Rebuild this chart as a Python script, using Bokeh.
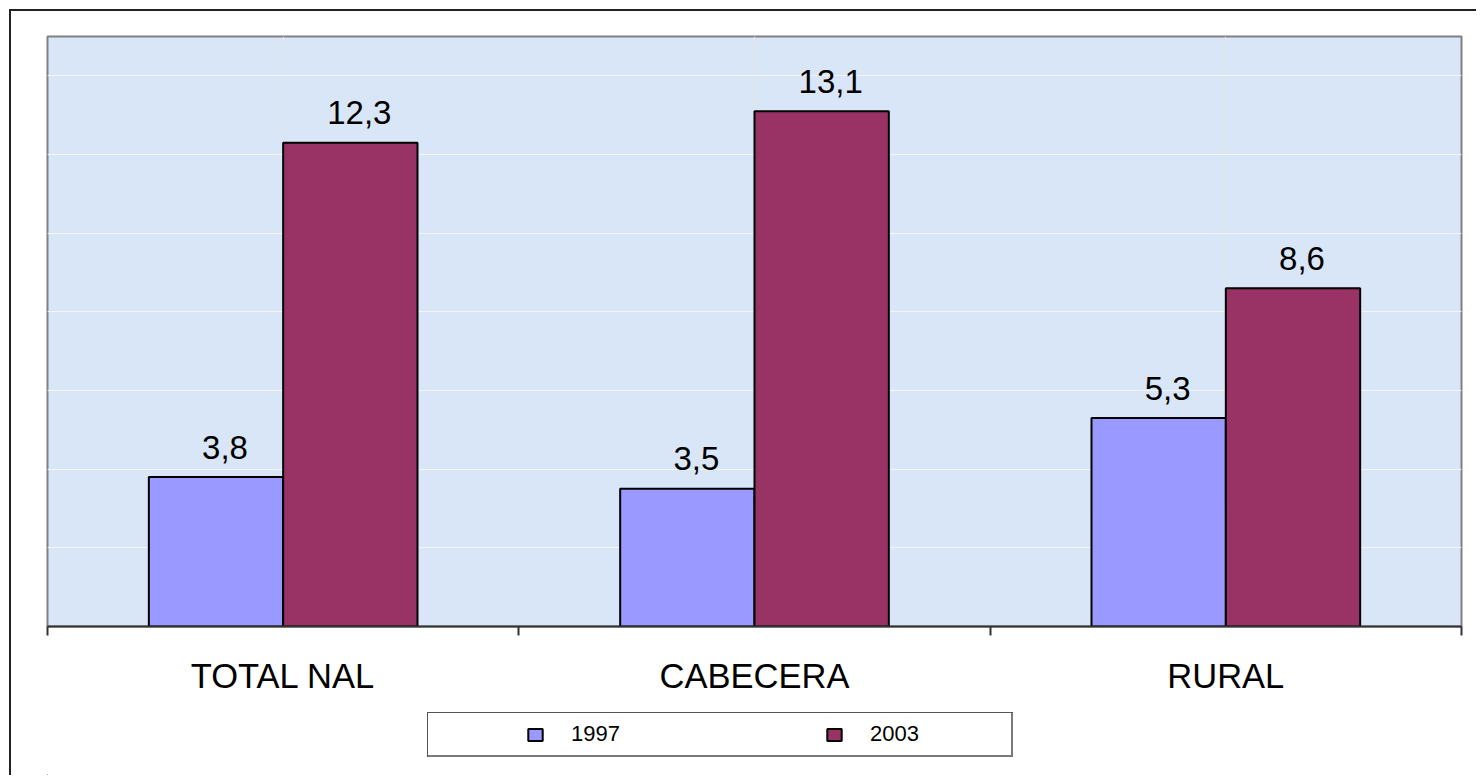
from bokeh.plotting import figure
from bokeh.layouts import column
from bokeh.models import (FactorRange, Range1d, ColumnDataSource, LinearAxis, CategoricalAxis,
                          FixedTicker, Legend, LegendItem, Grid)
from bokeh.transform import dodge
from bokeh.embed import file_html
from bokeh.resources import INLINE
from bokeh.core.properties import value

categories = ["TOTAL NAL", "CABECERA", "RURAL"]
series_names = ["1997", "2003"]
values_1997 = [3.8, 3.5, 5.3]
values_2003 = [12.3, 13.1, 8.6]
colors = ["#9999ff", "#993366"]


def fmt(v):
    return f"{v:.1f}".replace(".", ",")


src = ColumnDataSource(dict(
    cat=categories,
    v1997=values_1997,
    v2003=values_2003,
    l1997=[fmt(v) for v in values_1997],
    l2003=[fmt(v) for v in values_2003],
))

FONT = "Liberation Sans"

# ---------------- main chart ----------------
p = figure(width=1476, height=700,
           x_range=FactorRange(factors=categories, range_padding=0),
           y_range=Range1d(0, 15),
           output_backend="svg", toolbar_location=None,
           x_axis_location=None, y_axis_location=None,
           min_border_left=47, min_border_right=15, min_border_top=36, min_border_bottom=74)
p.background_fill_color = "#d8e6f8"
p.border_fill_color = None
p.outline_line_color = "#808080"
p.outline_line_width = 2

grid = Grid(dimension=1, ticker=FixedTicker(ticks=[2, 4, 6, 8, 10, 12, 14]),
            grid_line_color="white", grid_line_alpha=0.6, grid_line_width=1)
p.add_layout(grid)

bw = 0.285
off = 0.1425
r1 = p.vbar(x=dodge("cat", -off, range=p.x_range), top="v1997", width=bw, source=src,
            fill_color=colors[0], line_color="black", line_width=2)
r2 = p.vbar(x=dodge("cat", off, range=p.x_range), top="v2003", width=bw, source=src,
            fill_color=colors[1], line_color="black", line_width=2)

for col, o in (("1997", -off), ("2003", off)):
    p.text(x=dodge("cat", o, range=p.x_range), y="v" + col, text="l" + col, source=src,
           text_align="center", text_baseline="alphabetic", x_offset=9, y_offset=-30,
           text_font=value(FONT), text_font_size="33px", text_color="black")

# tick axis at category boundaries (synthetic coordinates of the factor range)
tick_axis = LinearAxis(ticker=FixedTicker(ticks=list(range(len(categories) + 1))),
                       major_tick_out=9, major_tick_in=0, minor_tick_line_color=None,
                       major_label_text_font_size="1px", major_label_text_alpha=0,
                       major_label_standoff=0,
                       axis_line_color="#333333", axis_line_width=2,
                       major_tick_line_color="#333333", major_tick_line_width=2)
p.add_layout(tick_axis, "below")

cat_axis = CategoricalAxis(major_tick_line_color=None, major_tick_out=0, major_tick_in=0,
                           axis_line_color=None,
                           major_label_text_font=FONT, major_label_text_font_size="34.5px",
                           major_label_text_color="black", major_label_standoff=21)
p.add_layout(cat_axis, "below")

# ---------------- legend strip ----------------
lg = figure(width=1476, height=75, x_range=Range1d(0, 1), y_range=Range1d(0, 1),
            output_backend="svg", toolbar_location=None,
            x_axis_location=None, y_axis_location=None,
            min_border=0, min_border_left=0, min_border_right=0,
            min_border_top=0, min_border_bottom=0)
lg.background_fill_color = None
lg.border_fill_color = None
lg.outline_line_color = None
lg.xgrid.visible = False
lg.ygrid.visible = False

# legend key proxies (kept outside the visible range of the strip)
proxy_src = ColumnDataSource(dict(x=[-5], top=[-5]))
k1 = lg.vbar(x="x", top="top", bottom=-6, width=0.1, source=proxy_src,
             fill_color=colors[0], line_color="black", line_width=2)
k2 = lg.vbar(x="x", top="top", bottom=-6, width=0.1, source=proxy_src,
             fill_color=colors[1], line_color="black", line_width=2)

legend = Legend(items=[LegendItem(label=series_names[0], renderers=[k1]),
                       LegendItem(label=series_names[1], renderers=[k2])],
                orientation="horizontal", location=(479, 28), padding=0, margin=0,
                spacing=142, label_width=112, label_standoff=27, glyph_width=18, glyph_height=15,
                label_height=25, label_text_font=FONT, label_text_font_size="22px",
                label_text_color="black",
                border_line_alpha=0, background_fill_alpha=0)
lg.add_layout(legend, "center")

layout = column(p, lg, spacing=0)
# decorative frame lines (outer chart border and legend box) drawn as CSS backgrounds
layout.styles = {
    "background-color": "white",
    "background-image": ", ".join(["linear-gradient(#222222, #222222)"] * 2
                                  + ["linear-gradient(#555555, #555555)"] * 2
                                  + ["linear-gradient(#7a7a7a, #7a7a7a)"] * 2),
    "background-repeat": "no-repeat",
    "background-position": "9px 9px, 9px 9px, 427px 712px, 427px 712px, 427px 755px, 1011px 712px",
    "background-size": "2px 100%, 100% 2px, 586px 1px, 1px 45px, 586px 2px, 2px 45px",
}

open("out.html", "w").write(file_html(layout, INLINE))
